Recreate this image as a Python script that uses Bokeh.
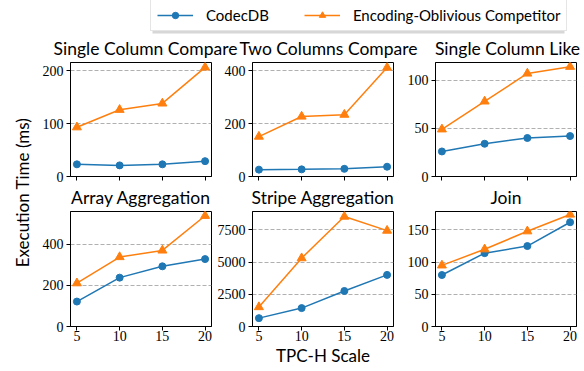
import numpy as np
from bokeh.plotting import figure
from bokeh.layouts import column, row
from bokeh.models import FixedTicker, Range1d, Legend, LegendItem, Label, BoxAnnotation
from bokeh.embed import file_html
from bokeh.resources import INLINE

# ---------------- data ----------------
scale = [5, 10, 15, 20]
scale_ticks = [5, 10, 15, 20]

titles = ["Single Column Compare", "Two Columns Compare", "Single Column Like",
          "Array Aggregation", "Stripe Aggregation", "Join"]

sc_compare_codecdb = [23, 21, 23, 29]
sc_compare_competitor = [93, 126, 138, 206]
tc_compare_codecdb = [26, 27, 29, 37]
tc_compare_competitor = [151, 227, 234, 412]
like_codecdb = [26, 34, 40, 42]
like_competitor = [49, 78, 107, 114]
array_codecdb = [121, 237, 292, 327]
array_competitor = [210, 337, 369, 537]
stripe_codecdb = [650, 1430, 2760, 4010]
stripe_competitor = [1510, 5310, 8540, 7450]
join_codecdb = [80, 114, 125, 162]
join_competitor = [95, 120, 148, 174]

sc_compare_yticks = [0, 100, 200]
tc_compare_yticks = [0, 200, 400]
like_yticks = [0, 50, 100]
array_yticks = [0, 200, 400]
stripe_yticks = [0, 2500, 5000, 7500]
join_yticks = [0, 50, 100, 150]

series_names = ["CodecDB", "Encoding-Oblivious Competitor"]
x_label = "TPC-H Scale"
y_label = "Execution Time (ms)"

# ---------------- style ----------------
BLUE = "#1f77b4"
ORANGE = "#ff7f0e"
SANS = "Lato"
SERIF = "Liberation Serif"
W, H = 584, 371
FRAME_LEFT = [70, 252, 435]
FRAME_W = 141
TOP_H = 60
ROW1_B = 10
MID_H = 33 - ROW1_B
YLAB_W = 38
ROW1_TITLE_X = [145, 328, 507]


def strip(width, height, x0):
    f = figure(width=width, height=height, x_range=Range1d(x0, x0 + width),
               y_range=Range1d(0, height), x_axis_type=None, y_axis_type=None,
               min_border=0, outline_line_color=None, toolbar_location=None,
               output_backend="svg", title=None)
    f.grid.visible = False
    return f


def add_title(f, text, x):
    f.add_layout(Label(x=x, y=12, text=text, text_align="center", text_baseline="middle",
                       text_font=SANS, text_font_size="17.5px", text_color="black"))


def panel(codec, comp, yticks, ml, mr, mt, mb, fh, show_xlabels, xlab=None):
    lo = min(codec + comp)
    hi = max(codec + comp)
    s0, s1 = min(scale), max(scale)
    pad = 0.05 * (s1 - s0)
    p = figure(frame_width=FRAME_W, frame_height=fh,
               x_range=Range1d(s0 - pad, s1 + pad),
               y_range=Range1d(0, hi + 0.05 * (hi - lo)),
               output_backend="svg", toolbar_location=None, title=None,
               min_border_left=ml, min_border_right=mr,
               min_border_top=mt, min_border_bottom=mb)
    p.outline_line_color = "black"
    p.outline_line_width = 1
    p.xgrid.visible = False
    p.ygrid.grid_line_color = "#b0b0b0"
    p.ygrid.grid_line_dash = "4 2"
    p.ygrid.grid_line_width = 1
    p.yaxis.ticker = FixedTicker(ticks=yticks)
    for ax in (p.xaxis, p.yaxis):
        ax.axis_line_color = "black"
        ax.major_tick_line_color = "black"
        ax.major_tick_out = 4
        ax.major_tick_in = 0
        ax.minor_tick_line_color = None
        ax.major_label_text_font = SERIF
        ax.major_label_text_font_size = "14px"
        ax.major_label_text_color = "black"
        ax.major_label_standoff = 3
    p.xaxis.major_label_standoff = 0
    if show_xlabels:
        p.xaxis.ticker = FixedTicker(ticks=scale_ticks)
    else:
        # tick marks without labels: use minor ticks only
        p.xaxis.ticker = FixedTicker(ticks=[], minor_ticks=scale_ticks)
        p.xaxis.minor_tick_line_color = "black"
        p.xaxis.minor_tick_out = 4
        p.xaxis.minor_tick_in = 0
    if xlab:
        p.xaxis.axis_label = xlab
        p.xaxis.axis_label_text_font = SANS
        p.xaxis.axis_label_text_font_size = "17px"
        p.xaxis.axis_label_text_font_style = "normal"
        p.xaxis.axis_label_text_color = "black"
        p.xaxis.axis_label_standoff = 1
    p.line(scale, codec, color=BLUE, line_width=1.5)
    p.scatter(scale, codec, marker="circle", size=7, color=BLUE)
    p.line(scale, comp, color=ORANGE, line_width=1.5)
    p.scatter(scale, comp, marker="triangle", size=9, color=ORANGE)
    return p


ml1 = FRAME_LEFT[0] - YLAB_W
r1, r2 = 3, 3
ml2 = FRAME_LEFT[1] - (FRAME_LEFT[0] + FRAME_W) - r1
ml3 = FRAME_LEFT[2] - (FRAME_LEFT[1] + FRAME_W) - r2
r3 = W - (FRAME_LEFT[2] + FRAME_W)

ROW1_H = 2 + 114 + ROW1_B
ROW2_H = H - TOP_H - ROW1_H - MID_H
p1 = panel(sc_compare_codecdb, sc_compare_competitor, sc_compare_yticks, ml1, r1, 2, ROW1_B, 114, False)
p2 = panel(tc_compare_codecdb, tc_compare_competitor, tc_compare_yticks, ml2, r2, 2, ROW1_B, 114, False)
p3 = panel(like_codecdb, like_competitor, like_yticks, ml3, r3, 2, ROW1_B, 114, False)
p4 = panel(array_codecdb, array_competitor, array_yticks, ml1, r1, 2, ROW2_H - 117, 115, True)
p5 = panel(stripe_codecdb, stripe_competitor, stripe_yticks, ml2, r2, 2, ROW2_H - 117, 115, True, x_label)
p6 = panel(join_codecdb, join_competitor, join_yticks, ml3, r3, 2, ROW2_H - 117, 115, True)

centers = [fl + FRAME_W / 2 for fl in FRAME_LEFT]

# top strip: legend + first row titles
top = strip(W, TOP_H, 0)
for t, c in zip(titles[:3], ROW1_TITLE_X):
    add_title(top, t, c)
top.add_layout(BoxAnnotation(left=152, right=564, bottom=TOP_H - 33, top=TOP_H - 3,
                             fill_color="#bdbdbd", fill_alpha=0.6, line_color=None))
l1 = top.line(scale, stripe_codecdb, color=BLUE, line_width=1.5)
m1 = top.scatter(scale, stripe_codecdb, marker="circle", size=7, color=BLUE)
l2 = top.line(scale, stripe_competitor, color=ORANGE, line_width=1.5)
m2 = top.scatter(scale, stripe_competitor, marker="triangle", size=9, color=ORANGE)
leg = Legend(items=[LegendItem(label=series_names[0], renderers=[l1, m1]),
                    LegendItem(label=series_names[1], renderers=[l2, m2])],
             orientation="horizontal", location=(150, TOP_H - 31), margin=0,
             padding=6, spacing=35, glyph_width=36, glyph_height=16, label_height=16,
             label_width=62, label_standoff=13, label_text_font=SANS,
             label_text_font_size="15px", label_text_color="black",
             border_line_color="#cccccc", border_line_width=1,
             background_fill_color="white", background_fill_alpha=1)
top.add_layout(leg, "center")

# middle strip: second row titles
mid = strip(W - YLAB_W, MID_H, YLAB_W)
for t, c in zip(titles[3:], centers):
    add_title(mid, t, c)

# y label strip
ylab_h = H - TOP_H
ylab = strip(YLAB_W, ylab_h, 0)
ylab.add_layout(Label(x=22, y=ylab_h - (192 - TOP_H), text=y_label, angle=np.pi / 2,
                      text_align="center", text_baseline="middle",
                      text_font=SANS, text_font_size="17px", text_color="black"))

layout = column(top, row(ylab, column(row(p1, p2, p3), mid, row(p4, p5, p6))))

open("out.html", "w").write(file_html(layout, INLINE))
